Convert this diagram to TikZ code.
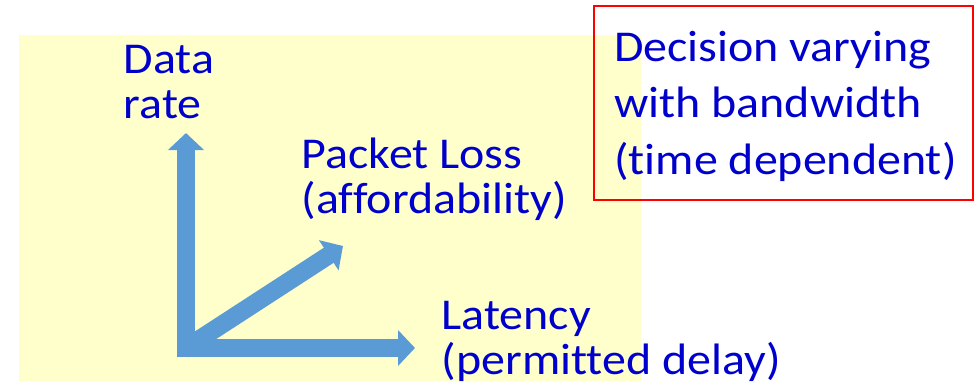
\documentclass[tikz,border=0pt]{standalone}
\usepackage{fontspec}
\setmainfont{Carlito}[Ligatures=NoCommon, FakeStretch=1.09]
\usepackage{tikz}
\usetikzlibrary{arrows.meta,positioning}
\definecolor{axisblue}{HTML}{5B9BD5}
\definecolor{labelblue}{HTML}{0000CC}
\definecolor{notebg}{HTML}{FFFFCC}

\begin{document}
\begin{tikzpicture}[x=1pt, y=-1pt,
    axis/.style={draw=axisblue, line width=18pt, line join=miter},
    lbl/.style={text=labelblue, anchor=base west, inner sep=0pt, align=left, font=\fontsize{44}{45}\selectfont},
    notetext/.style={lbl, font=\fontsize{44}{56.5}\selectfont}]
        \useasboundingbox (0,0) rectangle (976,381);
        \fill[notebg] (19,35) rectangle (641,381);

        \coordinate (O) at (189,346);
        \coordinate (rateEnd) at (186,133);
        \coordinate (lossEnd) at (343,246);
        \coordinate (latEnd) at (415,348);

        \draw[axis, -{Triangle[length=17pt, width=35pt]}] (O) -- (lossEnd);
        \draw[axis, {Triangle[length=17pt, width=35pt]}-{Triangle[length=17pt, width=35pt]}] (rateEnd) |- (latEnd);

        \node[lbl] (rate) at (123.5,118.5) {Data\\rate};
        \node[lbl] (loss) at (301.5,213) {Packet Loss\\(affordability)};
        \node[lbl] (latency) at (441.5,374) {Latency\\(permitted delay)};
        \node[notetext] (decision) at (614,174) {Decision varying\\with bandwidth\\(time dependent)};

        \draw[red, line width=2pt] (594,6) rectangle (973,200);
  \end{tikzpicture}
\end{document}
